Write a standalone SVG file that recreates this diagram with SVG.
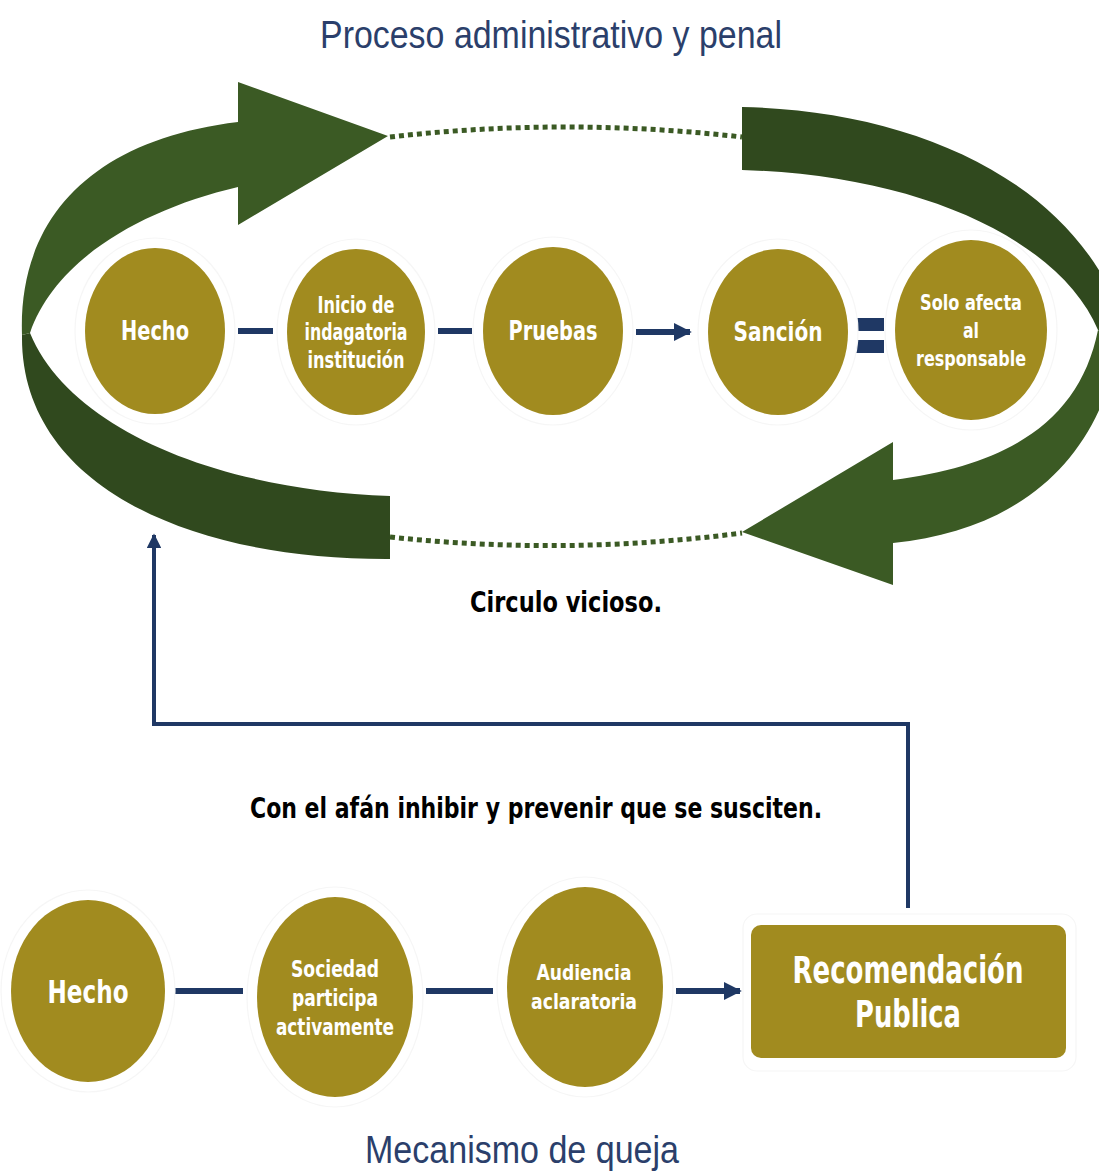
<svg xmlns="http://www.w3.org/2000/svg" width="1099" height="1171" viewBox="0 0 1099 1171">
<style>
.node{fill:#a18b1f}
.halo{fill:#ffffff;stroke:#f6f6f6;stroke-width:1.2}
.lbl{font-family:"DejaVu Sans Condensed","Liberation Sans",sans-serif;font-stretch:condensed;font-weight:bold;fill:#ffffff;text-anchor:middle}
.cap{font-family:"DejaVu Sans Condensed","Liberation Sans",sans-serif;font-stretch:condensed;font-weight:bold;fill:#000000;text-anchor:middle}
.title{font-family:"Liberation Sans","DejaVu Sans",sans-serif;fill:#2b3f6b;text-anchor:middle}
.link{stroke:#1f3864;stroke-width:6;fill:none}
.dots{stroke:#3b5a24;stroke-width:5;stroke-dasharray:5 4;fill:none}
.light{fill:#3b5a24}
.dark{fill:#30491e}
</style>
<defs>
<marker id="ah" viewBox="0 0 10 10" refX="9" refY="5" markerWidth="3" markerHeight="3" orient="auto" markerUnits="strokeWidth">
<path d="M0,0 L10,5 L0,10 Z" fill="#1f3864"/>
</marker>
<marker id="ah2" viewBox="0 0 10 10" refX="9" refY="5" markerWidth="4.5" markerHeight="3.6" orient="auto" markerUnits="strokeWidth">
<path d="M0,0 L10,5 L0,10 Z" fill="#1f3864"/>
</marker>
</defs>

<text class="title" x="551" y="48" font-size="38" textLength="462" lengthAdjust="spacingAndGlyphs">Proceso administrativo y penal</text>

<g id="cycle">
<path class="dark" d="M30,333 C70,430 220,490 390,496 L390,559 C180,560 20,480 22,335 Z"/>
<path class="light" d="M22,335 C18,220 90,140 238,122 L238,82 L388,136 L238,225 L238,187 C140,210 55,260 30,333 Z"/>
<path class="dark" d="M742,107 C900,110 1050,170 1110,290 L1120,330 L1098,330 C1060,240 920,175 742,170 Z"/>
<path class="light" d="M1098,330 C1080,420 1010,465 893,480 L893,442 L742,532 L893,585 L893,543 C1020,530 1100,460 1120,340 Z"/>
<path class="dots" d="M390,137 Q565,117 742,137"/>
<path class="dots" d="M390,537 Q566,556 742,533"/>
</g>

<g id="connectors">
<line class="link" x1="238" y1="331" x2="273" y2="331"/>
<line class="link" x1="438" y1="331" x2="472" y2="331"/>
<line class="link" x1="636" y1="332" x2="690" y2="332" marker-end="url(#ah)"/>
<rect x="856" y="318" width="28" height="13" fill="#1f3864"/>
<rect x="856" y="340" width="28" height="13" fill="#1f3864"/>
<line class="link" x1="175" y1="991" x2="243" y2="991"/>
<line class="link" x1="426" y1="991" x2="493" y2="991"/>
<line class="link" x1="676" y1="991" x2="740" y2="991" marker-end="url(#ah)"/>
<path d="M908,908 L908,724 L154,724 L154,535" stroke="#1f3864" stroke-width="4" fill="none" marker-end="url(#ah2)"/>
</g>

<g id="n-hecho1">
<ellipse class="halo" cx="155" cy="331" rx="80" ry="93"/>
<ellipse class="node" cx="155" cy="331" rx="70" ry="83"/>
<text class="lbl" x="155" y="340" font-size="27" textLength="68" lengthAdjust="spacingAndGlyphs">Hecho</text>
</g>
<g id="n-inicio">
<ellipse class="halo" cx="356" cy="332" rx="79" ry="93"/>
<ellipse class="node" cx="356" cy="332" rx="69" ry="83"/>
<text class="lbl" font-size="23"><tspan x="356" y="313" textLength="77" lengthAdjust="spacingAndGlyphs">Inicio de</tspan><tspan x="356" y="340" textLength="103" lengthAdjust="spacingAndGlyphs">indagatoria</tspan><tspan x="356" y="368" textLength="97" lengthAdjust="spacingAndGlyphs">institución</tspan></text>
</g>
<g id="n-pruebas">
<ellipse class="halo" cx="553" cy="331" rx="80" ry="94"/>
<ellipse class="node" cx="553" cy="331" rx="70" ry="84"/>
<text class="lbl" x="553" y="340" font-size="27" textLength="89" lengthAdjust="spacingAndGlyphs">Pruebas</text>
</g>
<g id="n-sancion">
<ellipse class="halo" cx="778" cy="332" rx="80" ry="93"/>
<ellipse class="node" cx="778" cy="332" rx="70" ry="83"/>
<text class="lbl" x="778" y="341" font-size="27" textLength="89" lengthAdjust="spacingAndGlyphs">Sanción</text>
</g>
<g id="n-solo">
<ellipse class="halo" cx="971" cy="330" rx="86" ry="100"/>
<ellipse class="node" cx="971" cy="330" rx="76" ry="90"/>
<text class="lbl" font-size="22"><tspan x="971" y="310" textLength="102" lengthAdjust="spacingAndGlyphs">Solo afecta</tspan><tspan x="971" y="338" textLength="16" lengthAdjust="spacingAndGlyphs">al</tspan><tspan x="971" y="366" textLength="110" lengthAdjust="spacingAndGlyphs">responsable</tspan></text>
</g>

<text class="cap" x="566" y="612" font-size="29" textLength="192" lengthAdjust="spacingAndGlyphs">Circulo vicioso.</text>
<text class="cap" x="536" y="818" font-size="29" textLength="572" lengthAdjust="spacingAndGlyphs">Con el afán inhibir y prevenir que se susciten.</text>

<g id="n-hecho2">
<ellipse class="halo" cx="88" cy="991" rx="87" ry="101"/>
<ellipse class="node" cx="88" cy="991" rx="77" ry="91"/>
<text class="lbl" x="88" y="1003" font-size="32" textLength="81" lengthAdjust="spacingAndGlyphs">Hecho</text>
</g>
<g id="n-sociedad">
<ellipse class="halo" cx="335" cy="997" rx="88" ry="110"/>
<ellipse class="node" cx="335" cy="997" rx="78" ry="100"/>
<text class="lbl" font-size="23"><tspan x="335" y="977" textLength="88" lengthAdjust="spacingAndGlyphs">Sociedad</tspan><tspan x="335" y="1006" textLength="86" lengthAdjust="spacingAndGlyphs">participa</tspan><tspan x="335" y="1035" textLength="118" lengthAdjust="spacingAndGlyphs">activamente</tspan></text>
</g>
<g id="n-audiencia">
<ellipse class="halo" cx="585" cy="987" rx="88" ry="110"/>
<ellipse class="node" cx="585" cy="987" rx="78" ry="100"/>
<text class="lbl" font-size="22"><tspan x="584" y="980" textLength="95" lengthAdjust="spacingAndGlyphs">Audiencia</tspan><tspan x="584" y="1009" textLength="106" lengthAdjust="spacingAndGlyphs">aclaratoria</tspan></text>
</g>
<g id="n-recomendacion">
<rect x="743" y="914" width="333" height="157" rx="14" fill="#ffffff" stroke="#f6f6f6" stroke-width="1.2"/>
<rect class="node" x="751" y="925" width="315" height="133" rx="10"/>
<text class="lbl" font-size="37"><tspan x="908" y="983" textLength="231" lengthAdjust="spacingAndGlyphs">Recomendación</tspan><tspan x="908" y="1027" textLength="106" lengthAdjust="spacingAndGlyphs">Publica</tspan></text>
</g>

<text class="title" x="522" y="1163" font-size="38" textLength="314" lengthAdjust="spacingAndGlyphs">Mecanismo de queja</text>
</svg>
